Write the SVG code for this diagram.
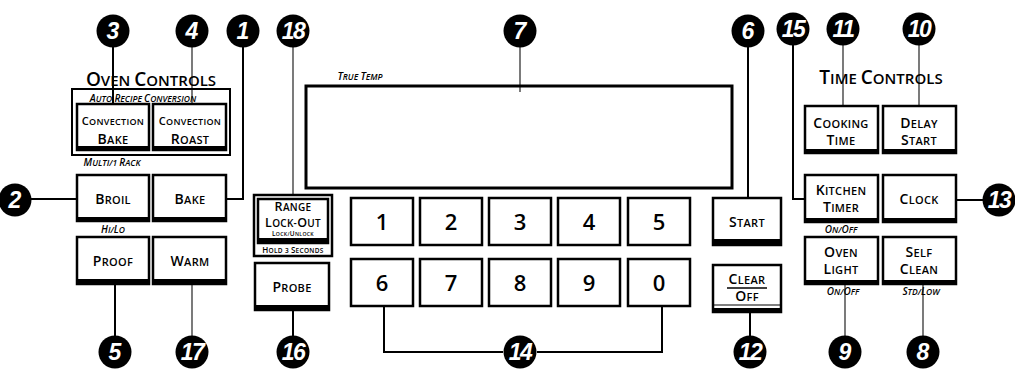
<svg xmlns="http://www.w3.org/2000/svg" width="1015" height="377" viewBox="0 0 1015 377">
<style>
.btn{fill:#fff;stroke:#000;stroke-width:2.5}
.band{fill:#000}
.key{fill:#fff;stroke:#000;stroke-width:2.5}
.bl{font-family:"Open Sans","Liberation Sans",sans-serif;font-weight:600;fill:#000;text-anchor:middle;letter-spacing:0.3px}
.num{font-family:"Open Sans","Liberation Sans",sans-serif;font-weight:600;font-size:22px;fill:#000;text-anchor:middle}
.it{font-family:"Open Sans","Liberation Sans",sans-serif;font-style:italic;font-weight:600;fill:#000;text-anchor:middle}
.ttl{font-family:"Open Sans","Liberation Sans",sans-serif;font-weight:600;fill:#000;text-anchor:middle}
.badge{fill:#000}
.bn{font-family:"Liberation Sans",sans-serif;font-style:italic;font-weight:bold;font-size:23px;fill:#fff;text-anchor:middle}
.ld{fill:none;stroke:#000;stroke-width:2}
.lg{fill:none;stroke:#333;stroke-width:1.3}
.big{font-size:14px}
.sm{font-size:11px}
.rb{font-size:12.5px}
.rs{font-size:10px}
.cb{font-size:11px}
.cs{font-size:9px}
.ib{font-size:10px}
.is{font-size:8.5px}
</style>

<g id="connectors">
<path class="ld" d="M113 47V112"/>
<path class="lg" d="M192 47V112"/>
<path class="ld" d="M243 47V199H224"/>
<path class="ld" d="M31 199H82"/>
<path class="ld" d="M115 280V336"/>
<path class="lg" d="M192 280V336"/>
<path class="lg" d="M293 47V199"/>
<path class="ld" d="M293 303V336"/>
<path class="lg" d="M520 47V92"/>
<path class="ld" d="M748 47V206"/>
<path class="ld" d="M384 303V352H503"/>
<path class="ld" d="M662 303V352H537"/>
<path class="ld" d="M750 303V336"/>
<path class="ld" d="M793 45V199H812"/>
<path class="lg" d="M843 45V112"/>
<path class="lg" d="M919 45V112"/>
<path class="ld" d="M952 200H983"/>
<path class="lg" d="M845 278V336"/>
<path class="lg" d="M923 278V336"/>
</g>

<g id="oven-controls-title">
<text class="ttl" x="151" y="86"><tspan font-size="19">O</tspan><tspan font-size="15">VEN </tspan><tspan font-size="19">C</tspan><tspan font-size="15">ONTROLS</tspan></text>
</g>
<g id="auto-recipe">
<rect x="72" y="89" width="158" height="66" fill="none" stroke="#000" stroke-width="2"/>
<text class="it" x="143" y="102"><tspan class="ib">A</tspan><tspan class="is">UTO </tspan><tspan class="ib">R</tspan><tspan class="is">ECIPE </tspan><tspan class="ib">C</tspan><tspan class="is">ONVERSION</tspan></text>
</g>

<g id="conv-bake">
<rect class="btn" x="77" y="104" width="72" height="46"/>
<rect class="band" x="77" y="146" width="72" height="4"/>
<text class="bl" x="113" y="125"><tspan class="cb">C</tspan><tspan class="cs">ONVECTION</tspan></text>
<text class="bl" x="113" y="144"><tspan class="big">B</tspan><tspan class="sm">AKE</tspan></text>
</g>
<g id="conv-roast">
<rect class="btn" x="153" y="104" width="73" height="46"/>
<rect class="band" x="153" y="146" width="73" height="4"/>
<text class="bl" x="190" y="125"><tspan class="cb">C</tspan><tspan class="cs">ONVECTION</tspan></text>
<text class="bl" x="190" y="144"><tspan class="big">R</tspan><tspan class="sm">OAST</tspan></text>
</g>

<text class="it" x="112" y="166"><tspan class="ib">M</tspan><tspan class="is">ULTI/1 </tspan><tspan class="ib">R</tspan><tspan class="is">ACK</tspan></text>

<g id="broil">
<rect class="btn" x="77" y="175" width="72" height="46"/>
<rect class="band" x="77" y="217" width="72" height="4"/>
<text class="bl" x="113" y="204"><tspan class="big">B</tspan><tspan class="sm">ROIL</tspan></text>
</g>
<g id="bake">
<rect class="btn" x="153" y="175" width="73" height="46"/>
<rect class="band" x="153" y="217" width="73" height="4"/>
<text class="bl" x="190" y="204"><tspan class="big">B</tspan><tspan class="sm">AKE</tspan></text>
</g>

<text class="it" x="113" y="233"><tspan class="ib">H</tspan><tspan class="is">I/</tspan><tspan class="ib">L</tspan><tspan class="is">O</tspan></text>

<g id="proof">
<rect class="btn" x="77" y="237" width="72" height="47"/>
<rect class="band" x="77" y="279" width="72" height="5"/>
<text class="bl" x="113" y="266"><tspan class="big">P</tspan><tspan class="sm">ROOF</tspan></text>
</g>
<g id="warm">
<rect class="btn" x="153" y="237" width="73" height="47"/>
<rect class="band" x="153" y="279" width="73" height="5"/>
<text class="bl" x="190" y="266"><tspan class="big">W</tspan><tspan class="sm">ARM</tspan></text>
</g>

<g id="range-lockout">
<rect x="254" y="195" width="78" height="61" fill="#fff" stroke="#000" stroke-width="2.5"/>
<rect class="btn" x="258" y="199" width="70" height="44" stroke-width="1.5"/>
<rect class="band" x="258" y="238" width="70" height="5"/>
<text class="bl" x="293" y="210.5"><tspan class="rb">R</tspan><tspan class="rs">ANGE</tspan></text>
<text class="bl" x="293" y="226.5"><tspan class="rb">L</tspan><tspan class="rs">OCK-</tspan><tspan class="rb">O</tspan><tspan class="rs">UT</tspan></text>
<text class="bl" x="293" y="235.5" letter-spacing="0"><tspan font-size="6.5">L</tspan><tspan font-size="5.2">OCK/</tspan><tspan font-size="6.5">U</tspan><tspan font-size="5.2">NLOCK</tspan></text>
<text class="bl" x="293" y="253" letter-spacing="0"><tspan font-size="8">H</tspan><tspan font-size="6.5">OLD 3 </tspan><tspan font-size="8">S</tspan><tspan font-size="6.5">ECONDS</tspan></text>
</g>

<g id="probe">
<rect class="btn" x="255" y="263" width="74" height="47"/>
<rect class="band" x="255" y="305" width="74" height="5"/>
<text class="bl" x="292" y="292"><tspan class="big">P</tspan><tspan class="sm">ROBE</tspan></text>
</g>

<g id="display">
<rect x="306" y="86" width="426" height="102" fill="none" stroke="#000" stroke-width="3"/>
<text class="it" x="360" y="80"><tspan font-size="10.5">T</tspan><tspan font-size="8.5">RUE </tspan><tspan font-size="10.5">T</tspan><tspan font-size="8.5">EMP</tspan></text>
</g>

<g id="key-1"><rect class="key" x="351" y="198" width="62" height="47"/><text class="num" x="382" y="230">1</text></g>
<g id="key-2"><rect class="key" x="420" y="198" width="62" height="47"/><text class="num" x="451" y="230">2</text></g>
<g id="key-3"><rect class="key" x="489" y="198" width="62" height="47"/><text class="num" x="520" y="230">3</text></g>
<g id="key-4"><rect class="key" x="558" y="198" width="62" height="47"/><text class="num" x="589" y="230">4</text></g>
<g id="key-5"><rect class="key" x="628" y="198" width="62" height="47"/><text class="num" x="659" y="230">5</text></g>
<g id="key-6"><rect class="key" x="351" y="259" width="62" height="47"/><text class="num" x="382" y="291">6</text></g>
<g id="key-7"><rect class="key" x="420" y="259" width="62" height="47"/><text class="num" x="451" y="291">7</text></g>
<g id="key-8"><rect class="key" x="489" y="259" width="62" height="47"/><text class="num" x="520" y="291">8</text></g>
<g id="key-9"><rect class="key" x="558" y="259" width="62" height="47"/><text class="num" x="589" y="291">9</text></g>
<g id="key-0"><rect class="key" x="628" y="259" width="62" height="47"/><text class="num" x="659" y="291">0</text></g>

<g id="start">
<rect class="btn" x="713" y="198" width="68" height="47"/>
<rect class="band" x="713" y="239" width="68" height="6"/>
<text class="bl" x="747" y="227"><tspan class="big">S</tspan><tspan class="sm">TART</tspan></text>
</g>
<g id="clear-off">
<rect class="btn" x="713" y="265" width="68" height="47"/>
<rect class="band" x="713" y="308" width="68" height="4"/>
<line x1="714" y1="305" x2="780" y2="305" stroke="#000" stroke-width="1"/>
<text class="bl" x="747" y="284"><tspan class="big">C</tspan><tspan class="sm">LEAR</tspan></text>
<line x1="727" y1="288" x2="767" y2="288" stroke="#000" stroke-width="1.5"/>
<text class="bl" x="747" y="301"><tspan class="big">O</tspan><tspan class="sm">FF</tspan></text>
</g>

<g id="time-controls-title">
<text class="ttl" x="881" y="84"><tspan font-size="19">T</tspan><tspan font-size="15">IME </tspan><tspan font-size="19">C</tspan><tspan font-size="15">ONTROLS</tspan></text>
</g>

<g id="cooking-time">
<rect class="btn" x="805" y="106" width="73" height="47"/>
<rect class="band" x="805" y="149" width="73" height="4"/>
<text class="bl" x="841" y="128"><tspan class="big">C</tspan><tspan class="sm">OOKING</tspan></text>
<text class="bl" x="841" y="145"><tspan class="big">T</tspan><tspan class="sm">IME</tspan></text>
</g>
<g id="delay-start">
<rect class="btn" x="883" y="106" width="73" height="47"/>
<rect class="band" x="883" y="149" width="73" height="4"/>
<text class="bl" x="919" y="128"><tspan class="big">D</tspan><tspan class="sm">ELAY</tspan></text>
<text class="bl" x="919" y="145"><tspan class="big">S</tspan><tspan class="sm">TART</tspan></text>
</g>
<g id="kitchen-timer">
<rect class="btn" x="805" y="175" width="73" height="47"/>
<rect class="band" x="805" y="218" width="73" height="4"/>
<text class="bl" x="841" y="195"><tspan class="big">K</tspan><tspan class="sm">ITCHEN</tspan></text>
<text class="bl" x="841" y="212"><tspan class="big">T</tspan><tspan class="sm">IMER</tspan></text>
</g>
<g id="clock">
<rect class="btn" x="883" y="175" width="73" height="47"/>
<rect class="band" x="883" y="218" width="73" height="4"/>
<text class="bl" x="919" y="204"><tspan class="big">C</tspan><tspan class="sm">LOCK</tspan></text>
</g>
<text class="it" x="841" y="233"><tspan class="ib">O</tspan><tspan class="is">N/</tspan><tspan class="ib">O</tspan><tspan class="is">FF</tspan></text>
<g id="oven-light">
<rect class="btn" x="805" y="237" width="73" height="47"/>
<rect class="band" x="805" y="280" width="73" height="4"/>
<text class="bl" x="841" y="257"><tspan class="big">O</tspan><tspan class="sm">VEN</tspan></text>
<text class="bl" x="841" y="274"><tspan class="big">L</tspan><tspan class="sm">IGHT</tspan></text>
</g>
<g id="self-clean">
<rect class="btn" x="883" y="237" width="73" height="47"/>
<rect class="band" x="883" y="280" width="73" height="4"/>
<text class="bl" x="919" y="257"><tspan class="big">S</tspan><tspan class="sm">ELF</tspan></text>
<text class="bl" x="919" y="274"><tspan class="big">C</tspan><tspan class="sm">LEAN</tspan></text>
</g>
<text class="it" x="843" y="295"><tspan class="ib">O</tspan><tspan class="is">N/</tspan><tspan class="ib">O</tspan><tspan class="is">FF</tspan></text>
<text class="it" x="921" y="295"><tspan class="ib">S</tspan><tspan class="is">TD/</tspan><tspan class="ib">L</tspan><tspan class="is">OW</tspan></text>

<g id="badge-3"><circle class="badge" cx="113" cy="31" r="16.5"/><text class="bn" x="113" y="39">3</text></g>
<g id="badge-4"><circle class="badge" cx="192" cy="31" r="16.5"/><text class="bn" x="192" y="39">4</text></g>
<g id="badge-1"><circle class="badge" cx="243" cy="31" r="16.5"/><text class="bn" x="243" y="39">1</text></g>
<g id="badge-18"><circle class="badge" cx="293" cy="31" r="16.5"/><text class="bn" x="293" y="39" letter-spacing="-1.5">18</text></g>
<g id="badge-7"><circle class="badge" cx="520" cy="31" r="16.5"/><text class="bn" x="520" y="39">7</text></g>
<g id="badge-6"><circle class="badge" cx="748" cy="31" r="16.5"/><text class="bn" x="748" y="39">6</text></g>
<g id="badge-15"><circle class="badge" cx="793" cy="29" r="16.5"/><text class="bn" x="793" y="37" letter-spacing="-1.5">15</text></g>
<g id="badge-11"><circle class="badge" cx="843" cy="29" r="16.5"/><text class="bn" x="843" y="37" letter-spacing="-1.5">11</text></g>
<g id="badge-10"><circle class="badge" cx="919" cy="29" r="16.5"/><text class="bn" x="919" y="37" letter-spacing="-1.5">10</text></g>
<g id="badge-2"><circle class="badge" cx="15" cy="200" r="16.5"/><text class="bn" x="15" y="208">2</text></g>
<g id="badge-13"><circle class="badge" cx="999" cy="200" r="16.5"/><text class="bn" x="999" y="208" letter-spacing="-1.5">13</text></g>
<g id="badge-5"><circle class="badge" cx="115" cy="352" r="16.5"/><text class="bn" x="115" y="360">5</text></g>
<g id="badge-17"><circle class="badge" cx="192" cy="352" r="16.5"/><text class="bn" x="192" y="360" letter-spacing="-1.5">17</text></g>
<g id="badge-16"><circle class="badge" cx="293" cy="352" r="16.5"/><text class="bn" x="293" y="360" letter-spacing="-1.5">16</text></g>
<g id="badge-14"><circle class="badge" cx="520" cy="352" r="16.5"/><text class="bn" x="520" y="360" letter-spacing="-1.5">14</text></g>
<g id="badge-12"><circle class="badge" cx="750" cy="352" r="16.5"/><text class="bn" x="750" y="360" letter-spacing="-1.5">12</text></g>
<g id="badge-9"><circle class="badge" cx="845" cy="352" r="16.5"/><text class="bn" x="845" y="360">9</text></g>
<g id="badge-8"><circle class="badge" cx="923" cy="352" r="16.5"/><text class="bn" x="923" y="360">8</text></g>
</svg>
